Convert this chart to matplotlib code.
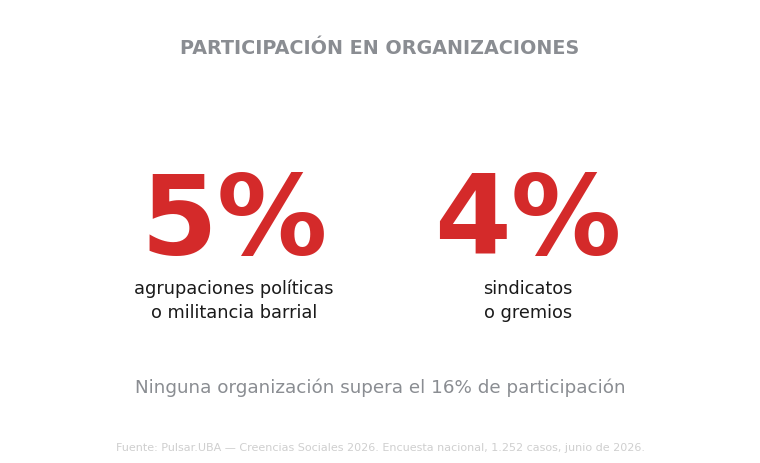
import matplotlib
matplotlib.use("Agg")
import matplotlib.pyplot as plt

plt.rcParams["font.family"] = ["DejaVu Sans"]

title = "PARTICIPACIÓN EN ORGANIZACIONES"
values = [5, 4]
labels = ["agrupaciones políticas\no militancia barrial", "sindicatos\no gremios"]
subtitle = "Ninguna organización supera el 16% de participación"
source = "Fuente: Pulsar.UBA — Creencias Sociales 2026. Encuesta nacional, 1.252 casos, junio de 2026."

W, H = 760, 464
fig = plt.figure(figsize=(W / 100, H / 100), dpi=100)
fig.patch.set_facecolor("white")
ax = fig.add_axes([0, 0, 1, 1])
ax.set_xlim(0, W)
ax.set_ylim(H, 0)
ax.axis("off")

red = "#d42a2a"
ax.text(380, 49, title, ha="center", va="center", fontsize=13.75, fontweight="bold", color="#8a8d92")

xs = [234, 528]
for x, v, lab in zip(xs, values, labels):
    ax.text(x, 254, f"{v}%", ha="center", va="baseline", fontsize=79.5, fontweight="bold", color=red)
    ax.text(x, 301, lab, ha="center", va="center", fontsize=12.8, color="#1a1a1a", linespacing=1.4)

ax.text(380, 388, subtitle, ha="center", va="center", fontsize=13.25, color="#8a8d92")
ax.text(380, 448, source, ha="center", va="center", fontsize=8.0, color="#cfcfcf")

fig.savefig("out.png", dpi=100, facecolor="white")
